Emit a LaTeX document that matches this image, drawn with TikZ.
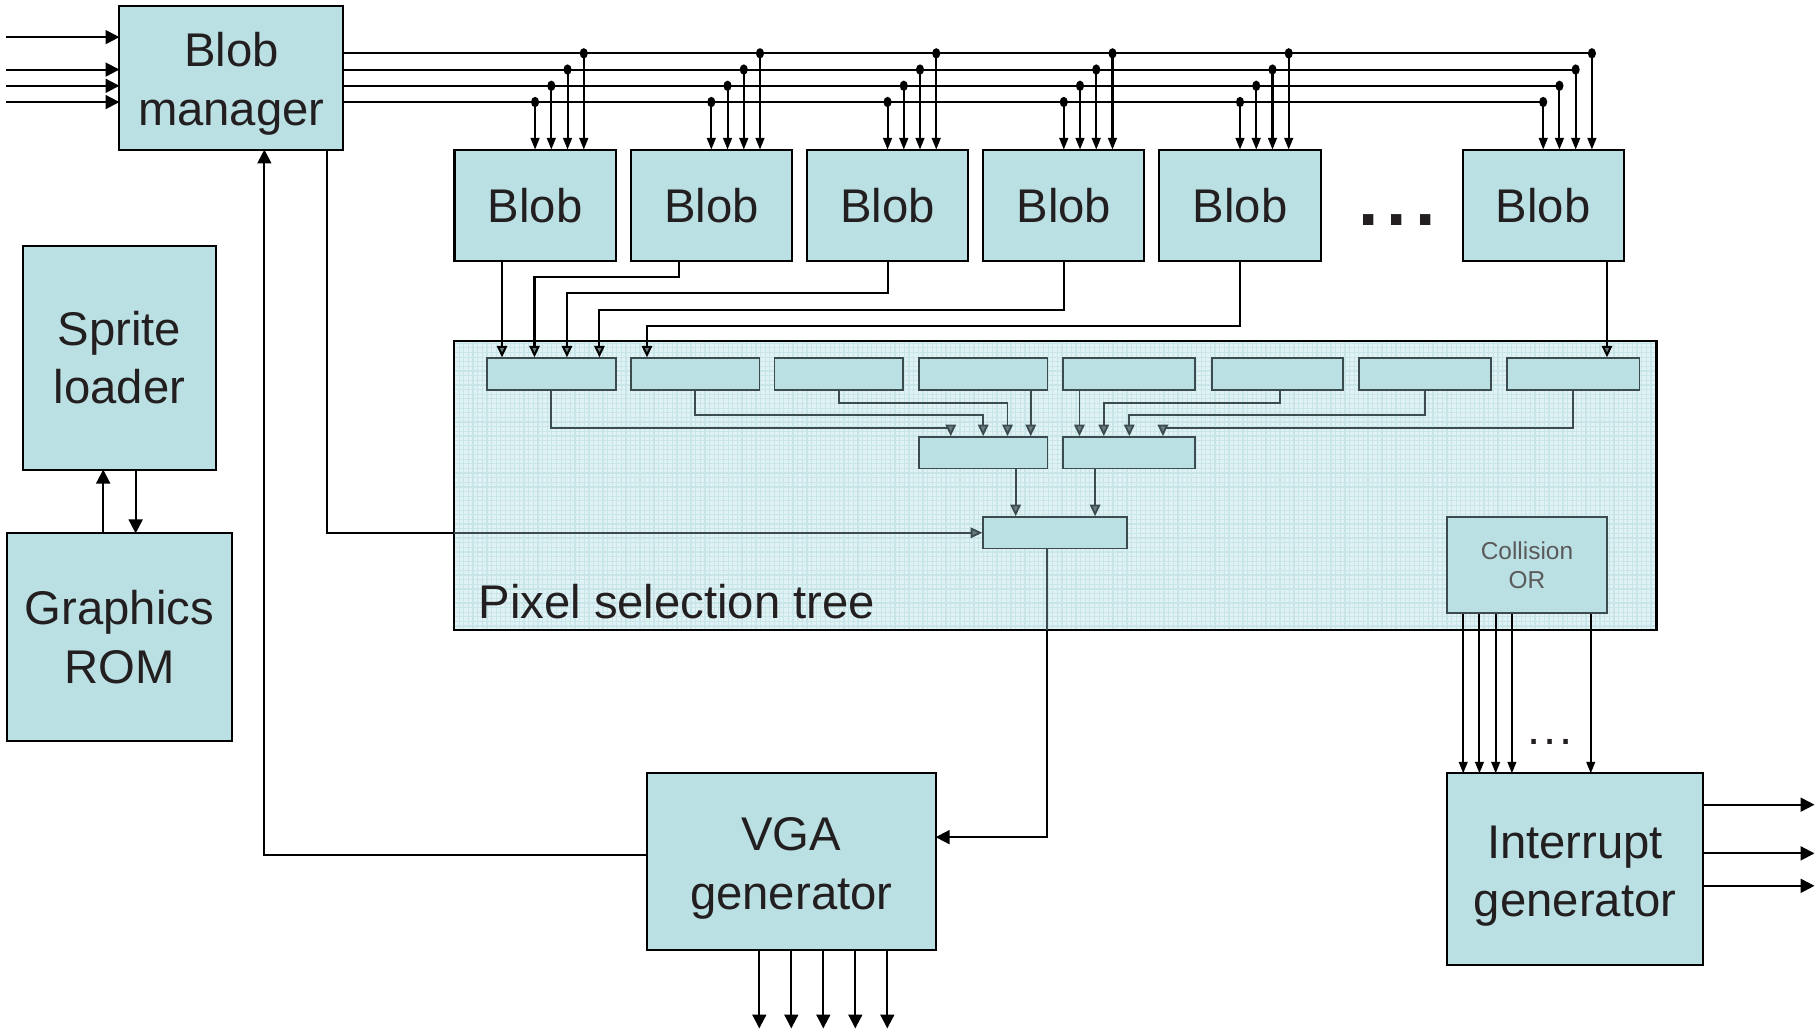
\documentclass[tikz,border=0pt]{standalone}
\usepackage{fontspec}
\setmainfont{Liberation Sans}
\usepackage{xcolor}
\usepackage{tikz}
\usetikzlibrary{arrows.meta, positioning}

\definecolor{boxfill}{RGB}{186,224,227}
\definecolor{treefill}{RGB}{224,242,244}
\definecolor{treegrid}{RGB}{200,230,233}
\definecolor{innerline}{RGB}{60,76,78}
\definecolor{headfill}{RGB}{105,125,128}
\definecolor{textdark}{RGB}{35,31,32}
\definecolor{textgray}{RGB}{90,90,90}

\newcommand{\bigtext}{\fontsize{11.6}{14.4}\selectfont}
\newcommand{\smalltext}{\fontsize{6}{7.2}\selectfont}

\begin{document}
\begin{tikzpicture}[x=0.1mm, y=-0.1mm,
box/.style={rectangle, draw=black, fill=boxfill, line width=0.5pt, inner sep=0pt, outer sep=0pt, align=center, font=\bigtext, text=textdark},
blobbox/.style={box, minimum width=13.9mm, minimum height=9.6mm},
sel/.style={rectangle, draw=innerline, fill=boxfill, line width=0.45pt, inner sep=0pt, minimum height=2.7mm},
wire/.style={line width=0.5pt},
arr/.style={wire, -{Triangle[length=1.2mm, width=1.2mm]}},
tap/.style={wire, -{Triangle[length=1mm, width=0.75mm]}},
feed/.style={wire, -{Triangle[length=1mm, width=0.9mm, fill=headfill]}},
inner/.style={draw=innerline, line width=0.45pt, -{Triangle[length=1mm, width=0.9mm, fill=headfill]}}
]
\useasboundingbox (0,0) rectangle (1568,890);

% blob manager and the blob row
\node[box, minimum width=19.3mm, minimum height=12.4mm, text height=25.8pt] (bm) at (199.5,67) {Blob\\manager};
\node[blobbox] (b1) at (461.5,177) {Blob};
\node[blobbox, right=1.3mm of b1] (b2) {Blob};
\node[blobbox, right=1.3mm of b2] (b3) {Blob};
\node[blobbox, right=1.3mm of b3] (b4) {Blob};
\node[blobbox, right=1.3mm of b4] (b5) {Blob};
\node[blobbox] (b6) at (1331,177) {Blob};
\node[font=\fontsize{18}{18}\selectfont\bfseries, text=textdark, inner sep=0pt] (more) at (1205,190) {.\hspace{0.7mm}.\hspace{0.7mm}.};

% sprite loader and rom
\node[box, minimum width=16.6mm, minimum height=19.3mm] (sprite) at (103,308.5) {Sprite\\loader};
\node[box, minimum width=19.4mm, minimum height=17.9mm] (rom) at (103,549.5) {Graphics\\ROM};

% pixel selection tree
\node[rectangle, fill=treefill, inner sep=0pt, minimum width=103.6mm, minimum height=24.8mm] (tree) at (910,419) {};
\begin{scope}
\clip (tree.south west) rectangle (tree.north east);
\draw[treegrid, line width=0.3pt, step=0.4mm] (tree.south west) grid (tree.north east);
\end{scope}
\draw[wire] (tree.south west) rectangle (tree.north east);
\node[font=\bigtext, text=textdark, anchor=base west, inner sep=0pt] (treelabel) at (412,533) {Pixel selection tree};

\foreach \cx/\w [count=\i] in {475.5/11.1, 599.5/11.1, 723.5/11.1, 848/11.1, 974/11.4, 1101.5/11.3, 1229/11.4, 1357/11.4}
  \node[sel, minimum width=\w mm] (s\i) at (\cx,322.5) {};
\node[sel, minimum width=11.1mm] (m1) at (848,390.5) {};
\node[sel, minimum width=11.4mm] (m2) at (974,390.5) {};
\node[sel, minimum width=12.4mm] (out) at (910,459.5) {};
\node[sel, minimum width=13.8mm, minimum height=8.3mm, align=center, font=\smalltext, text=textgray] (coll) at (1317,487.5) {Collision\\OR};

% vga and interrupt
\node[box, minimum width=24.9mm, minimum height=15.2mm, text height=25.8pt] (vga) at (682.5,743) {VGA\\generator};
\node[box, minimum width=22.1mm, minimum height=16.5mm, text height=25.8pt] (intr) at (1358.5,749.5) {Interrupt\\generator};

% inputs and bus
\foreach \y [count=\i] in {32,60,74,88} {
  \coordinate (in\i) at (5,\y);
  \draw[arr] (in\i) -- (in\i -| bm.west);
}
\foreach \k/\y in {0/88,1/74,2/60,3/46}
  \coordinate (bus\k) at (296,\y);
\foreach \b in {1,...,6} {
  \foreach \k in {0,...,3} {
    \path (b\b.north) ++(14*\k,0) coordinate (tap\b\k);
    \draw[tap] (tap\b\k |- bus\k) -- (tap\b\k);
    \fill (tap\b\k |- bus\k) ellipse [x radius=3.5, y radius=4.5];
  }
}
\foreach \k in {0,...,3}
  \draw[wire] (bm.east |- bus\k) -- (tap6\k |- bus\k);

% blobs into the tree
\draw[feed] ([xshift=-2.85mm]b1.south) -- ([xshift=-2.85mm]b1.south |- s1.north);
\draw[feed] ([xshift=-2.75mm]b2.south) -- ++(0,14) -| ([xshift=-1.45mm]s1.north);
\draw[feed] (b3.south) -- ++(0,28) -| ([xshift=1.35mm]s1.north);
\draw[feed] (b4.south) -- ++(0,42) -| ([xshift=4.15mm]s1.north);
\draw[feed] (b5.south) -- ++(0,56) -| ([xshift=-4.15mm]s2.north);
\draw[feed] ([xshift=5.5mm]b6.south) -- ([xshift=5.5mm]b6.south |- s8.north);

% inside the tree
\draw[inner] (s1.south) -- ++(0,32) -| ([xshift=-2.8mm]m1.north);
\draw[inner] (s2.south) -- ++(0,21) -| (m1.north);
\draw[inner] (s3.south) -- ++(0,11) -| ([xshift=2.1mm]m1.north);
\draw[inner] ([xshift=4.1mm]m1.north |- s4.south) -- ([xshift=4.1mm]m1.north);
\draw[inner] ([xshift=-4.3mm]m2.north |- s5.south) -- ([xshift=-4.3mm]m2.north);
\draw[inner] ([xshift=0.25mm]s6.south) -- ++(0,11) -| ([xshift=-2.2mm]m2.north);
\draw[inner] (s7.south) -- ++(0,21) -| (m2.north);
\draw[inner] (s8.south) -- ++(0,32) -| ([xshift=2.9mm]m2.north);
\draw[inner] ([xshift=2.8mm]m1.south) -- ([xshift=2.8mm]m1.south |- out.north);
\draw[inner] ([xshift=-2.95mm]m2.south) -- ([xshift=-2.95mm]m2.south |- out.north);

% manager to tree, tree to vga, vga back to manager
\draw[wire] ([xshift=8.25mm]bm.south) |- (out.west -| tree.west);
\draw[inner] (out.west -| tree.west) -- (out.west);
\draw[draw=innerline, line width=0.45pt] ([xshift=-0.7mm]out.south) -- ([xshift=-0.7mm]out.south |- tree.south);
\draw[arr] ([xshift=-0.7mm]out.south |- tree.south) |- ([yshift=2.1mm]vga.east);
\draw[arr] ([yshift=0.6mm]vga.west) -| ([xshift=2.85mm]bm.south);
\draw[arr] ([xshift=-1.4mm]rom.north) -- ([xshift=-1.4mm]rom.north |- sprite.south);
\draw[arr] ([xshift=1.4mm]sprite.south) -- ([xshift=1.4mm]sprite.south |- rom.north);

% vga outputs
\foreach \i in {-1,...,3} {
  \coordinate (vo\i) at ([xshift=\i*2.76mm]vga.south |- 0,887);
  \draw[arr] ([xshift=\i*2.76mm]vga.south) -- (vo\i);
}

% collision lines and interrupts
\foreach \dx in {-5.5,-4.1,-2.7,-1.3,5.5}
  \draw[tap] ([xshift=\dx mm]coll.south) -- ([xshift=\dx mm]coll.south |- intr.north);
\node[font=\bigtext, text=textdark, inner sep=0pt] (gap) at (1337,640) {.\hspace{0.25mm}.\hspace{0.25mm}.};
\foreach \dy [count=\i] in {5.55,1.35,-1.45} {
  \coordinate (io\i) at ([yshift=\dy mm]intr.east -| 1565,0);
  \draw[arr] ([yshift=\dy mm]intr.east) -- (io\i);
}
\end{tikzpicture}
\end{document}
